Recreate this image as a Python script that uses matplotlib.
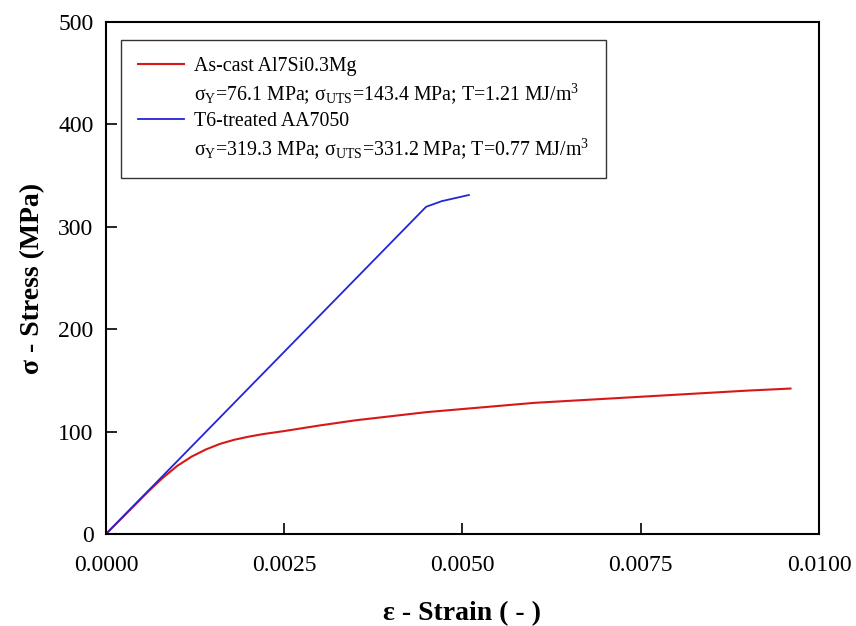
import matplotlib
matplotlib.use('Agg')
import matplotlib.pyplot as plt
from matplotlib.lines import Line2D

plt.rcParams['font.family'] = ['Liberation Serif', 'DejaVu Serif']
plt.rcParams['mathtext.fontset'] = 'custom'
plt.rcParams['mathtext.rm'] = 'Liberation Serif'
plt.rcParams['mathtext.it'] = 'Liberation Serif:italic'
plt.rcParams['mathtext.bf'] = 'Liberation Serif:bold'

# As-cast Al7Si0.3Mg
cast_strain = [0.0, 0.0002, 0.0004, 0.0006, 0.0008, 0.0010, 0.0012, 0.0014, 0.0016,
               0.0018, 0.0020, 0.0022, 0.0025, 0.0030, 0.0035, 0.0040, 0.0045,
               0.0050, 0.0055, 0.0060, 0.0065, 0.0070, 0.0075, 0.0080, 0.0085,
               0.0090, 0.0096]
cast_stress = [0, 14, 28, 42, 55, 66.5, 75.5, 82.5, 88, 92, 95, 97.5, 100.5, 106, 111, 115, 119,
               122, 125, 128, 130, 132, 134, 136, 138, 140, 142]

# T6-treated AA7050
t6_strain = [0.0, 0.00449, 0.00471, 0.00509]
t6_stress = [0, 319.5, 325, 331]

labels = ['As-cast Al7Si0.3Mg',
          r'$\mathregular{\sigma_Y}$=76.1 MPa; $\mathregular{\sigma_{UTS}}$=143.4 MPa; T=1.21 MJ/m$\mathregular{^3}$',
          'T6-treated AA7050',
          r'$\mathregular{\sigma_Y}$=319.3 MPa; $\mathregular{\sigma_{UTS}}$=331.2 MPa; T=0.77 MJ/m$\mathregular{^3}$']

red = '#d81818'
blue = '#2424d8'

fig = plt.figure(figsize=(8.56, 6.26), dpi=100)
ax = fig.add_axes([0.1238, 0.147, 0.833, 0.818])

ax.plot(cast_strain, cast_stress, color=red, lw=1.5)
ax.plot(t6_strain, t6_stress, color=blue, lw=1.3)

ax.set_xlim(0, 0.01)
ax.set_ylim(0, 500)
ax.set_xticks([0, 0.0025, 0.005, 0.0075, 0.01])
ax.set_xticklabels(['0.0000', '0.0025', '0.0050', '0.0075', '0.0100'])
ax.set_yticks([0, 100, 200, 300, 400, 500])
ax.tick_params(direction='in', length=8, width=1.2, labelsize=17)
ax.tick_params(axis='x', pad=15)
ax.tick_params(axis='y', pad=9)

for s in ax.spines.values():
    s.set_linewidth(1.5)

ax.set_xlabel('ε - Strain ( - )', fontsize=20, fontweight='bold', labelpad=18)
ax.set_ylabel('σ - Stress (MPa)', fontsize=20, fontweight='bold', labelpad=9)

handles = [Line2D([], [], color=red, lw=1.5),
           Line2D([], [], color='none'),
           Line2D([], [], color=blue, lw=1.3),
           Line2D([], [], color='none')]
leg = ax.legend(handles, labels, loc='upper left', bbox_to_anchor=(0.021, 0.965),
                fontsize=14.3, frameon=True, fancybox=False, handlelength=2.3,
                borderpad=0.85, labelspacing=0.28, handletextpad=0.55, borderaxespad=0)
leg.get_frame().set_edgecolor('black')
leg.get_frame().set_linewidth(1.0)

fig.savefig('out.png', dpi=100)
